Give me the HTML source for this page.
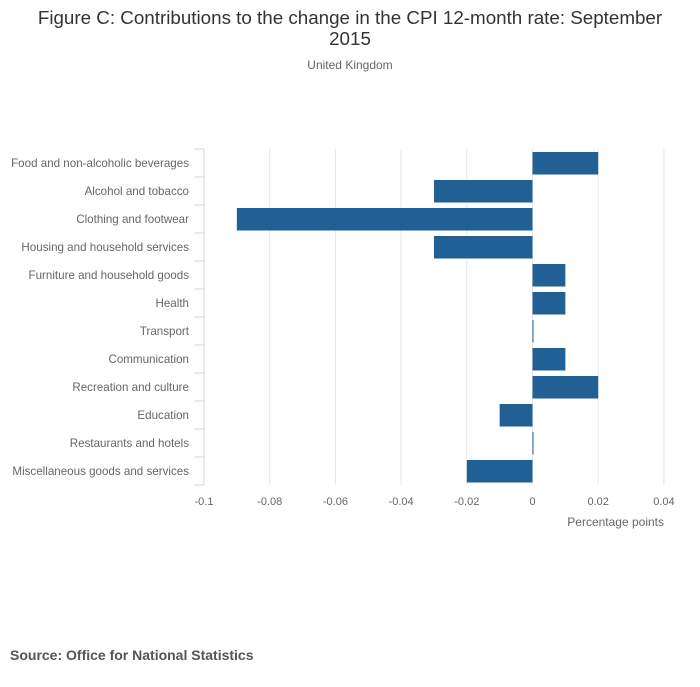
<!DOCTYPE html>
<html><head><meta charset="utf-8"><style>
body{margin:0;background:#fff;font-family:"Liberation Sans",sans-serif;}
</style></head><body>
<svg width="700" height="682" xmlns="http://www.w3.org/2000/svg" font-family="Liberation Sans, sans-serif">
<text x="350" y="24" text-anchor="middle" font-size="18.8" fill="#333">Figure C: Contributions to the change in the CPI 12-month rate: September</text>
<text x="350" y="45" text-anchor="middle" font-size="18.8" fill="#333">2015</text>
<text x="350" y="69" text-anchor="middle" font-size="12" fill="#666">United Kingdom</text>
<g id="grid"></g><g id="bars"></g><g id="labels"></g>
<text x="664" y="526" text-anchor="end" font-size="12" fill="#666">Percentage points</text>
<text x="10" y="660" font-size="14" font-weight="bold" fill="#555">Source: Office for National Statistics</text>
</svg>
<script>
const categories=["Food and non-alcoholic beverages","Alcohol and tobacco","Clothing and footwear","Housing and household services","Furniture and household goods","Health","Transport","Communication","Recreation and culture","Education","Restaurants and hotels","Miscellaneous goods and services"];
const values=[0.02,-0.03,-0.09,-0.03,0.01,0.01,0,0.01,0.02,-0.01,0,-0.02];
const ticks=[-0.1,-0.08,-0.06,-0.04,-0.02,0,0.02,0.04];
const tickLabels=["-0.1","-0.08","-0.06","-0.04","-0.02","0","0.02","0.04"];
{
const NS="http://www.w3.org/2000/svg";
const xs=v=>532.5+v*3285;
const plotTop=149,step=28;
const ys=i=>plotTop+i*step;
function mk(t,a,p){const e=document.createElementNS(NS,t);for(const k in a)e.setAttribute(k,a[k]);p.appendChild(e);return e;}
const g=document.getElementById('grid'),b=document.getElementById('bars'),l=document.getElementById('labels');
ticks.forEach((t,i)=>{
const gl=mk('line',{x1:xs(t),x2:xs(t),y1:plotTop,y2:plotTop+12*step,stroke:i==0?'#ccd6eb':'#e6e6e6','stroke-width':1},g);


const tx=mk('text',{x:xs(t),y:505,'text-anchor':'middle','font-size':11,fill:'#666'},l);tx.textContent=tickLabels[i];


});
for(let i=0;i<=12;i++){const tk=mk('line',{x1:194,x2:204,y1:ys(i),y2:ys(i),stroke:'#ccd6eb'},g);

}
categories.forEach((c,i)=>{
const v=values[i];const x0=Math.min(xs(0),xs(v));const w=Math.max(Math.abs(xs(v)-xs(0)),1);
const r=mk('rect',{x:x0,y:ys(i)+3,width:w,height:22.5,fill:'#206095'},b);


const t=mk('text',{x:189,y:ys(i)+18,'text-anchor':'end','font-size':11.6,fill:'#666'},l);t.textContent=c;


});
}
</script>
</body></html>
